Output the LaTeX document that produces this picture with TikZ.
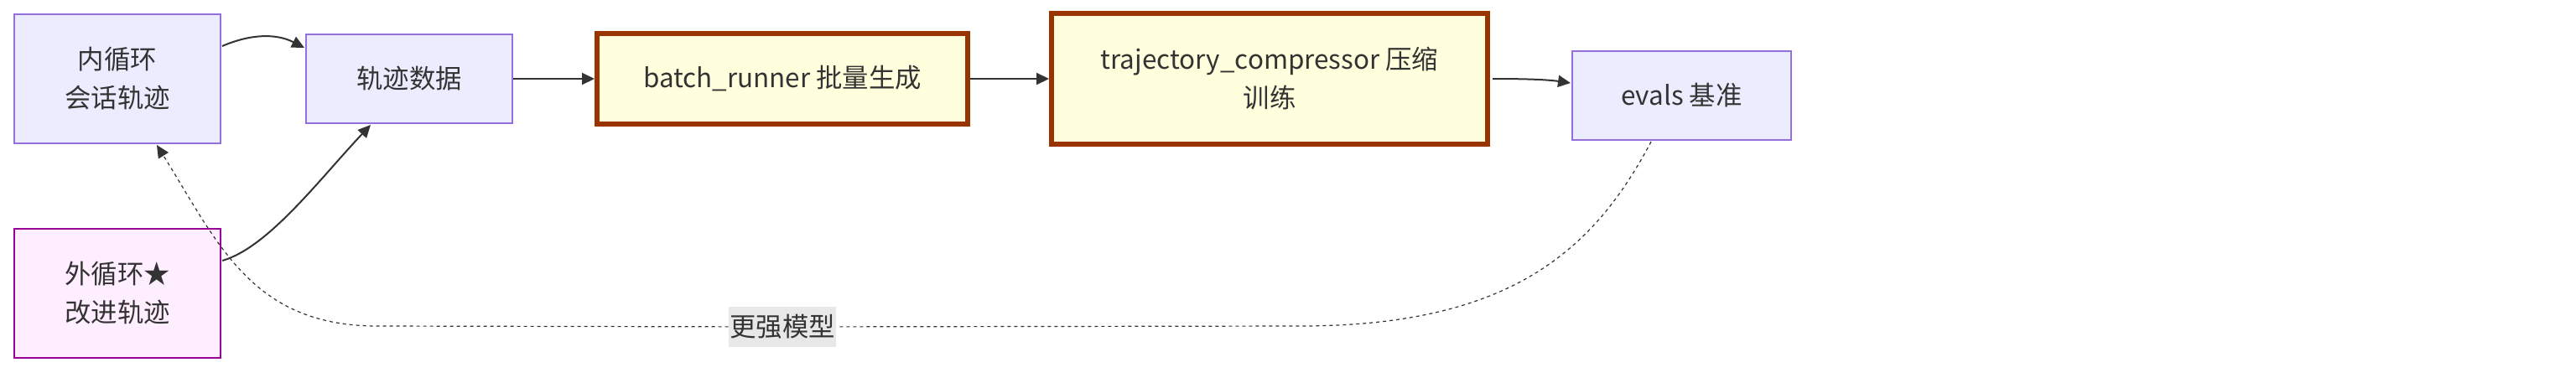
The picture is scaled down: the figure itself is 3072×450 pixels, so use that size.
\documentclass[tikz,border=0pt]{standalone}
\usepackage{fontspec}
\setmainfont{Noto Sans CJK SC}
\usetikzlibrary{arrows.meta,calc}
\definecolor{txt}{HTML}{333333}
\definecolor{bluefill}{HTML}{ECECFF}
\definecolor{bluedraw}{HTML}{9370DB}
\definecolor{yelfill}{HTML}{FFFFDE}
\definecolor{hotdraw}{HTML}{993300}
\definecolor{pinkfill}{HTML}{FFEEFF}
\definecolor{pinkdraw}{HTML}{990099}
\definecolor{lblbg}{HTML}{E8E8E8}
\begin{document}
\begin{tikzpicture}[x=0.5pt,y=-0.5pt,
  base/.style={rectangle, inner sep=0pt, align=center, text=txt,
    font=\fontsize{15.7pt}{23pt}\selectfont},
  bluebox/.style={base, fill=bluefill, draw=bluedraw, line width=1pt},
  hotbox/.style={base, fill=yelfill, draw=hotdraw, line width=3pt},
  pinkbox/.style={base, fill=pinkfill, draw=pinkdraw, line width=1.2pt},
  lblbox/.style={base, fill=lblbg, minimum width=64pt, minimum height=24pt},
  edge/.style={draw=txt, line width=1pt, -{Triangle[length=7.5pt,width=7pt]}},
  dotedge/.style={draw=txt, line width=0.6pt, dash pattern=on 2pt off 2pt,
    -{Triangle[length=7.5pt,width=7pt]}}]
\useasboundingbox[fill=white] (0,0) rectangle (3072,450);

\node[bluebox, minimum width=123pt, minimum height=77pt] (A) at (140,94) {内循环\\会话轨迹};
\node[bluebox, minimum width=123pt, minimum height=53pt] (B) at (488,94) {轨迹数据};
\node[hotbox, minimum width=221pt, minimum height=54pt] (C) at (933,94) {batch\_runner 批量生成};
\node[hotbox, minimum width=260pt, minimum height=78pt] (D) at (1514,94) {trajectory\_compressor 压缩\\训练};
\node[bluebox, minimum width=130.5pt, minimum height=53pt] (E) at (2005.5,114) {evals 基准};
\node[pinkbox, minimum width=123pt, minimum height=77pt] (F) at (140,350) {外循环★\\改进轨迹};
\node[lblbox] (L) at (933,390) {更强模型};

\coordinate (a1) at ($(A.east)+(1,-39)$);
\coordinate (b1) at ($(B.west)+(-1,-37)$);
\coordinate (f1) at ($(F.east)+(1,-39)$);
\coordinate (b2) at ($(B.south)+(-46,1)$);
\coordinate (d1) at ($(D.east)+(3,0)$);
\coordinate (e1) at ($(E.west)+(-1,-15)$);
\coordinate (e2) at ($(E.south)+(-36.5,1)$);
\coordinate (a2) at ($(A.south)+(47,1)$);
\coordinate (r1) at (1550,389);
\coordinate (l1) at (450,389);

\draw[edge] (a1) .. controls (300,40) and (330,40) .. (b1);
\draw[edge] (B.east) -- (C.west);
\draw[edge] (C.east) -- (D.west);
\draw[edge] (d1) .. controls (1820,94) and (1845,95) .. (e1);
\draw[edge] (f1) .. controls (320,295) and (380,215) .. (b2);
\draw[dotedge] (e2) .. controls (1900,300) and (1800,389) .. (r1) -- (L) -- (l1)
  .. controls (300,389) and (260,290) .. (a2);
\end{tikzpicture}
\end{document}
